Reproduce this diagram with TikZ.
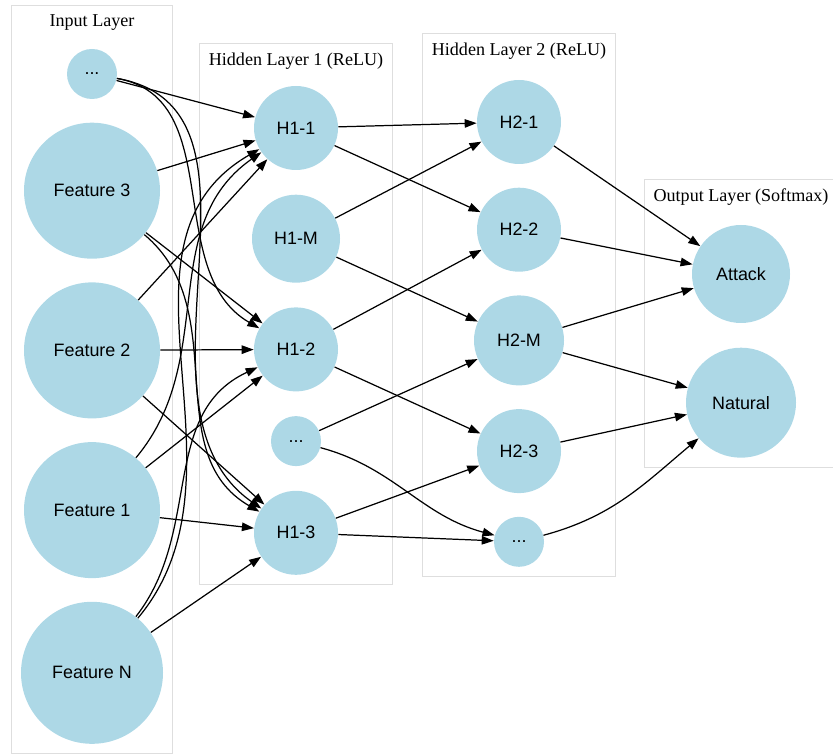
\documentclass[tikz,border=0pt]{standalone}
\usepackage{fontspec}
\setmainfont{Liberation Serif}
\setsansfont{Liberation Sans}
\usetikzlibrary{positioning,fit,arrows.meta,backgrounds}
\definecolor{neuronblue}{HTML}{ADD8E6}

\begin{document}
\begin{tikzpicture}[
	neuron/.style={circle, fill=neuronblue, inner sep=0pt, font=\sffamily\fontsize{10.2}{12}\selectfont},
	feature/.style={neuron, minimum size=27.2mm},
	hidden/.style={neuron, minimum size=16.8mm},
	dots/.style={neuron, minimum size=10mm},
	output/.style={neuron, minimum size=19.6mm},
	layerlabel/.style={rectangle, inner sep=0pt, font=\fontsize{10.3}{12}\selectfont},
	layerbox/.style={rectangle, draw=black!13, line width=0.5pt, inner sep=1.8mm}
]
\useasboundingbox (0,0) rectangle (166.6mm,-150.8mm);
% input layer
\node[dots] (in0) at (18.4mm,-14.8mm) {...};
\node[feature] (f3) [below=4.6mm of in0] {Feature 3};
\node[feature] (f2) [below=4.6mm of f3] {Feature 2};
\node[feature] (f1) [below=4.6mm of f2] {Feature 1};
\node[feature, minimum size=28.4mm] (fN) [below=4.6mm of f1] {Feature N};
\node[layerlabel] (inlabel) [above=3.6mm of in0] {Input Layer};
% hidden layer 1
\node[hidden] (h11) at (59.2mm,-25.6mm) {H1-1};
\node[hidden, minimum size=17.6mm] (h1m) [below=4.8mm of h11] {H1-M};
\node[hidden] (h12) [below=4.8mm of h1m] {H1-2};
\node[dots] (h1dots) [below=4.8mm of h12] {...};
\node[hidden] (h13) [below=4.8mm of h1dots] {H1-3};
\node[layerlabel] (h1label) [above=3.2mm of h11] {Hidden Layer 1 (ReLU)};
% hidden layer 2
\node[hidden] (h21) at (103.8mm,-24.4mm) {H2-1};
\node[hidden] (h22) [below=4.6mm of h21] {H2-2};
\node[hidden, minimum size=18mm] (h2m) [below=4.6mm of h22] {H2-M};
\node[hidden] (h23) [below=4.6mm of h2m] {H2-3};
\node[dots] (h2dots) [below=4.6mm of h23] {...};
\node[layerlabel] (h2label) [above=4mm of h21] {Hidden Layer 2 (ReLU)};
% output layer
\node[output] (attack) at (148.2mm,-54.8mm) {Attack};
\node[output, minimum size=22mm] (natural) [below=4.8mm of attack] {Natural};
\node[layerlabel] (outlabel) [above=3.8mm of attack] {Output Layer (Softmax)};
\begin{scope}[on background layer]
\node[layerbox, fit=(inlabel)(in0)(fN)] (inbox) {};
\node[layerbox, fit=(h1label)(h11)(h13)] (h1box) {};
\node[layerbox, fit=(h2label)(h21)(h2dots)] (h2box) {};
\node[layerbox, fit=(outlabel)(attack)(natural)] (outbox) {};
\end{scope}
\begin{scope}[line width=0.7pt, -{Triangle[length=2.4mm, width=1.7mm]}]
% input -> hidden 1
\draw (in0) -- (h11);
\draw (in0) to[out=-10, in=150] (h12);
\draw (in0) to[out=-10, in=145] (h13);
\draw (f3) -- (h11);
\draw (f3) -- (h12);
\draw (f3) to[out=-40, in=150] (h13);
\draw (f2) -- (h11);
\draw (f2) -- (h12);
\draw (f2) -- (h13);
\draw (f1) to[out=50, in=215] (h11);
\draw (f1) -- (h12);
\draw (f1) -- (h13);
\draw (fN) to[out=50, in=210] (h11);
\draw (fN) to[out=52, in=205] (h12);
\draw (fN) -- (h13);
% hidden 1 -> hidden 2
\draw (h11) -- (h21);
\draw (h11) -- (h22);
\draw (h1m) -- (h21);
\draw (h1m) -- (h2m);
\draw (h12) -- (h22);
\draw (h12) -- (h23);
\draw (h1dots) -- (h2m);
\draw (h1dots) to[out=-15, in=165] (h2dots);
\draw (h13) -- (h23);
\draw (h13) -- (h2dots);
% hidden 2 -> output
\draw (h21) -- (attack);
\draw (h22) -- (attack);
\draw (h2m) -- (attack);
\draw (h2m) -- (natural);
\draw (h23) -- (natural);
\draw (h2dots) to[out=15, in=-140] (natural);
\end{scope}
\end{tikzpicture}
\end{document}
